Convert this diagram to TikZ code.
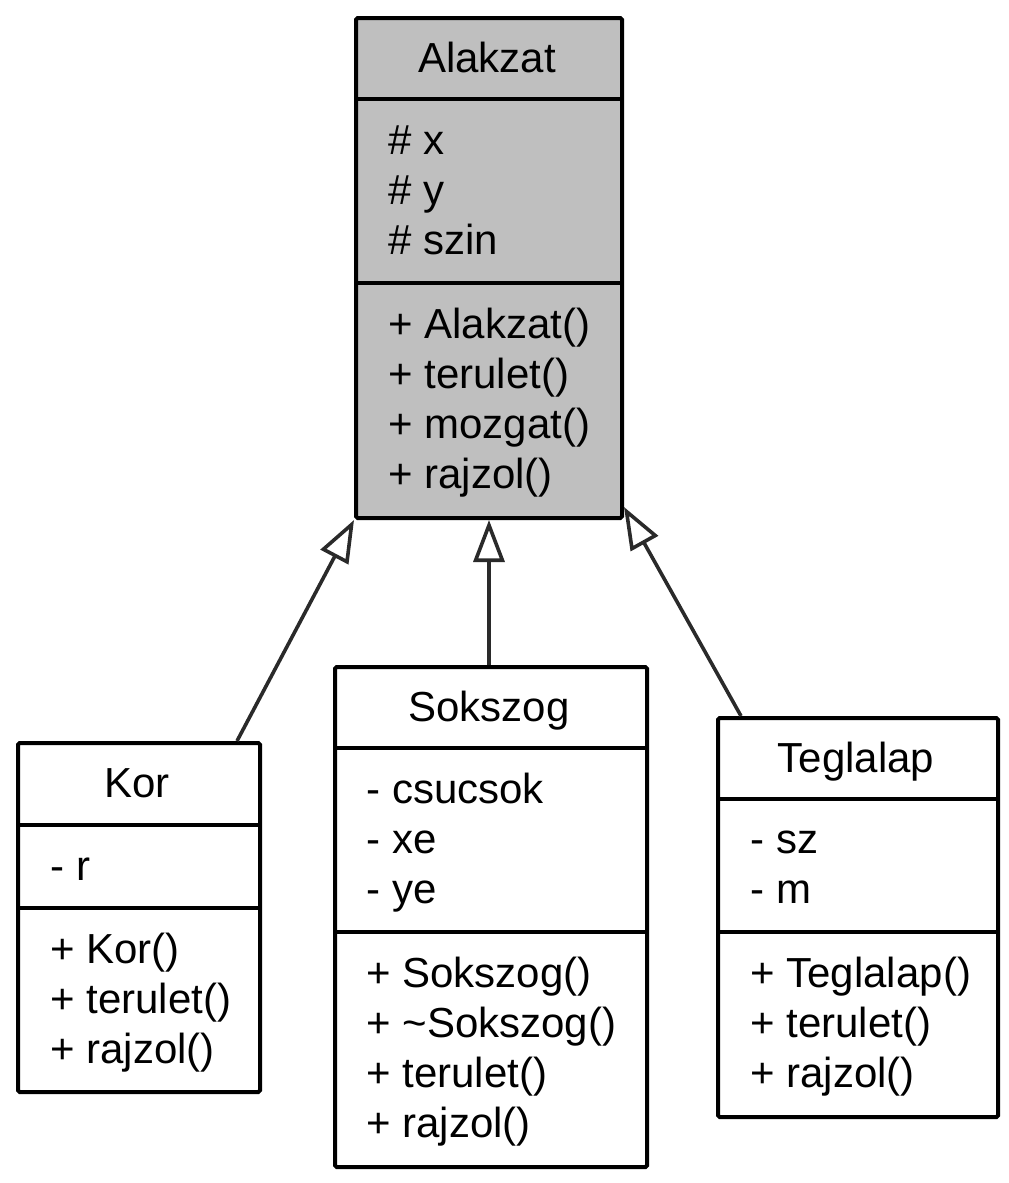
\documentclass[tikz,border=0pt]{standalone}
\usepackage{fontspec}
\setmainfont{Liberation Sans}
\usetikzlibrary{arrows.meta}
\definecolor{boxgray}{HTML}{BFBFBF}
\definecolor{edgecol}{HTML}{2A2A2A}
\tikzset{
  classbox/.style={draw=black, line width=2pt, rounded corners=0.8pt, rectangle, inner sep=0pt, anchor=north west},
  divider/.style={draw=black, line width=2pt},
  txt/.style={inner sep=0pt, font=\fontsize{21pt}{25pt}\selectfont},
  title/.style={txt, anchor=base},
  member/.style={txt, anchor=base west},
  inherit/.style={draw=edgecol, line width=1.8pt, -{Triangle[open, length=21pt, width=15.5pt, fill=white]}},
}
\begin{document}
\begin{tikzpicture}[x=0.5pt, y=-0.5pt]
\useasboundingbox (0,0) rectangle (1008,1183);
% Alakzat
\node[classbox, fill=boxgray, minimum width=133pt, minimum height=250pt] (alakzat) at (354,16) {};
\draw[divider] (354,99) -- (620,99);
\draw[divider] (354,283) -- (620,283);
\node[title] (alakzatT) at (487,72) {Alakzat};
\node[member] (a1) at (388,154) {\# x};
\node[member] (a2) at (388,204) {\# y};
\node[member] (a3) at (388,254) {\# szin};
\node[member] (a4) at (388,338) {+ Alakzat()};
\node[member] (a5) at (388,388) {+ terulet()};
\node[member] (a6) at (388,438) {+ mozgat()};
\node[member] (a7) at (388,488) {+ rajzol()};
% Kor
\node[classbox, fill=white, minimum width=121pt, minimum height=174.5pt] (kor) at (16,741) {};
\draw[divider] (16,825) -- (258,825);
\draw[divider] (16,908) -- (258,908);
\node[title] (korT) at (137,797) {Kor};
\node[member] (k1) at (50,880) {- r};
\node[member] (k2) at (50,963) {+ Kor()};
\node[member] (k3) at (50,1013) {+ terulet()};
\node[member] (k4) at (50,1063) {+ rajzol()};
% Sokszog
\node[classbox, fill=white, minimum width=156pt, minimum height=250pt] (sokszog) at (333,665) {};
\draw[divider] (333,748) -- (645,748);
\draw[divider] (333,932) -- (645,932);
\node[title] (sokszogT) at (489,721) {Sokszog};
\node[member] (s1) at (366,803) {- csucsok};
\node[member] (s2) at (366,853) {- xe};
\node[member] (s3) at (366,903) {- ye};
\node[member] (s4) at (366,987) {+ Sokszog()};
\node[member] (s5) at (366,1037) {+ \textasciitilde Sokszog()};
\node[member] (s6) at (366,1087) {+ terulet()};
\node[member] (s7) at (366,1137) {+ rajzol()};
% Teglalap
\node[classbox, fill=white, minimum width=140pt, minimum height=199.5pt] (teglalap) at (716,716) {};
\draw[divider] (716,799) -- (996,799);
\draw[divider] (716,932) -- (996,932);
\node[title] (teglalapT) at (856,772) {Teglalap};
\node[member] (t1) at (750,853) {- sz};
\node[member] (t2) at (750,903) {- m};
\node[member] (t3) at (750,987) {+ Teglalap()};
\node[member] (t4) at (750,1037) {+ terulet()};
\node[member] (t5) at (750,1087) {+ rajzol()};
% inheritance
\draw[inherit] ([xshift=-12.5pt]kor.north east) -- (alakzat.south west);
\draw[inherit] (sokszog.north -| alakzat.south) -- (alakzat.south);
\draw[inherit] ([xshift=12.5pt]teglalap.north west) -- ([yshift=6.5pt]alakzat.south east);
\end{tikzpicture}
\end{document}
